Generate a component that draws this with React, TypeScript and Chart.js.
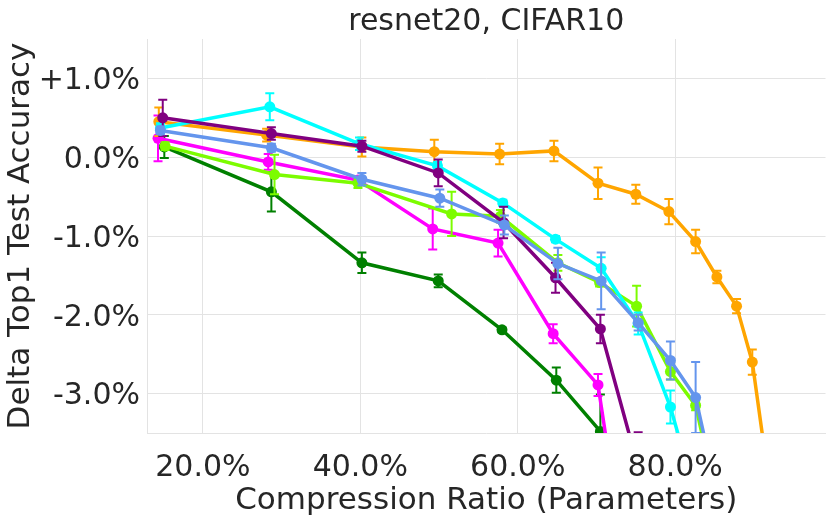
import React, { useEffect, useRef } from "react";
import { Chart, registerables } from "chart.js";

Chart.register(...registerables);

// compression ratio (%) / delta top1 accuracy (%) / std error, one set per method
const orangeRatio = [14.4, 28.1, 40.2, 49.4, 57.7, 64.6, 70.2, 75.0, 79.2, 82.6, 85.3, 87.8, 89.8, 92.3];
const orangeDelta = [0.45, 0.28, 0.13, 0.07, 0.04, 0.08, -0.33, -0.47, -0.69, -1.07, -1.52, -1.89, -2.6, -4.4];
const orangeErr = [0.18, 0.08, 0.12, 0.15, 0.13, 0.13, 0.2, 0.12, 0.16, 0.15, 0.08, 0.09, 0.16, 0.2];

const cyanRatio = [14.6, 28.5, 39.9, 49.8, 58.1, 64.8, 70.6, 75.3, 79.4, 82.5];
const cyanDelta = [0.37, 0.64, 0.17, -0.11, -0.58, -1.04, -1.41, -2.11, -3.17, -4.27];
const cyanErr = [0.06, 0.17, 0.08, 0.05, 0.04, 0.04, 0.14, 0.14, 0.21, 0.2];

const purpleRatio = [14.9, 28.7, 40.2, 49.9, 58.2, 64.8, 70.5, 75.3];
const purpleDelta = [0.5, 0.3, 0.14, -0.2, -0.83, -1.53, -2.18, -3.93];
const purpleErr = [0.23, 0.08, 0.07, 0.17, 0.2, 0.19, 0.18, 0.44];

const blueRatio = [14.6, 28.7, 40.2, 50.1, 58.3, 65.1, 70.6, 75.3, 79.4, 82.6, 86.5];
const blueDelta = [0.34, 0.12, -0.28, -0.52, -0.86, -1.35, -1.57, -2.1, -2.58, -3.05, -4.8];
const blueErr = [0.05, 0.05, 0.08, 0.11, 0.12, 0.2, 0.36, 0.1, 0.24, 0.45, 0.2];

const limeRatio = [15.2, 29.1, 39.7, 51.6, 57.8, 65.1, 70.4, 75.1, 79.4, 82.6, 86.5];
const limeDelta = [0.14, -0.22, -0.33, -0.72, -0.75, -1.34, -1.59, -1.89, -2.72, -3.15, -4.9];
const limeErr = [0.05, 0.25, 0.06, 0.28, 0.08, 0.1, 0.05, 0.26, 0.1, 0.06, 0.2];

const magentaRatio = [14.3, 28.3, 39.7, 49.2, 57.5, 64.5, 70.2, 73.4];
const magentaDelta = [0.24, -0.06, -0.29, -0.91, -1.09, -2.24, -2.89, -5.0];
const magentaErr = [0.29, 0.1, 0.05, 0.26, 0.17, 0.12, 0.14, 0.2];

const greenRatio = [15.1, 28.7, 40.2, 49.9, 58.0, 64.9, 70.5];
const greenDelta = [0.13, -0.44, -1.34, -1.57, -2.19, -2.83, -3.48];
const greenErr = [0.14, 0.25, 0.13, 0.08, 0.03, 0.16, 0.47];

const xTicks = [20, 40, 60, 80];
const yTicks = [-3, -2, -1, 0, 1];

const FONT = "'DejaVu Sans', sans-serif";
const TEXT = "#262626";
const GRID = "#e3e3e3";

const makeSeries = (color: string, xs: number[], ys: number[], errs: number[]) => ({
  data: xs.map((x, i) => ({ x, y: ys[i] })),
  errors: errs,
  borderColor: color,
  backgroundColor: color,
  pointBackgroundColor: color,
  pointBorderWidth: 0,
  pointRadius: 5.5,
  borderWidth: 3.5,
  tension: 0,
  clip: 0,
});

// vertical error bars with caps, drawn under each line's markers
const errorBars = {
  id: "errorBars",
  beforeDatasetDraw(chart: any, args: any) {
    const ds = chart.data.datasets[args.index];
    if (!ds.errors) return;
    const { ctx, chartArea } = chart;
    const xs = chart.scales.x;
    const ys = chart.scales.y;
    ctx.save();
    ctx.beginPath();
    ctx.rect(chartArea.left, chartArea.top, chartArea.right - chartArea.left, chartArea.bottom - chartArea.top);
    ctx.clip();
    ctx.strokeStyle = ds.borderColor;
    ctx.lineWidth = 2;
    ds.data.forEach((p: any, i: number) => {
      const e = ds.errors[i];
      const px = xs.getPixelForValue(p.x);
      const top = ys.getPixelForValue(p.y + e);
      const bot = ys.getPixelForValue(p.y - e);
      ctx.beginPath();
      ctx.moveTo(px, top);
      ctx.lineTo(px, bot);
      ctx.moveTo(px - 4.5, top);
      ctx.lineTo(px + 4.5, top);
      ctx.moveTo(px - 4.5, bot);
      ctx.lineTo(px + 4.5, bot);
      ctx.stroke();
    });
    ctx.restore();
  },
};

const App = () => {
  const chartRef = useRef<HTMLCanvasElement | null>(null);

  useEffect(() => {
    document.body.style.margin = "0";
    if (!chartRef.current) return;
    const ctx = chartRef.current.getContext("2d");
    if (!ctx) throw new Error("Could not get chart context");

    // first dataset is drawn on top
    const myChart = new Chart(ctx, {
      type: "line",
      data: {
        datasets: [
          makeSeries("#6495ED", blueRatio, blueDelta, blueErr),
          makeSeries("#800080", purpleRatio, purpleDelta, purpleErr),
          makeSeries("#00FFFF", cyanRatio, cyanDelta, cyanErr),
          makeSeries("#FFA500", orangeRatio, orangeDelta, orangeErr),
          makeSeries("#7CFC00", limeRatio, limeDelta, limeErr),
          makeSeries("#FF00FF", magentaRatio, magentaDelta, magentaErr),
          makeSeries("#008000", greenRatio, greenDelta, greenErr),
        ] as any,
      },
      options: {
        responsive: true,
        maintainAspectRatio: false,
        animation: false,
        layout: { padding: { left: 0, right: 5, top: 0, bottom: 0 } },
        plugins: {
          legend: { display: false },
          tooltip: { enabled: false },
          title: {
            display: true,
            text: "resnet20, CIFAR10",
            color: TEXT,
            fullSize: false,
            font: { family: FONT, size: 30, weight: "normal", lineHeight: 1 },
            padding: { top: 7, bottom: 2 },
          },
        },
        scales: {
          x: {
            type: "linear",
            min: 12.9,
            max: 99.1,
            afterBuildTicks: (s: any) => {
              s.ticks = xTicks.map((v) => ({ value: v }));
            },
            afterFit: (s: any) => {
              s.height = 89;
            },
            ticks: {
              color: TEXT,
              font: { family: FONT, size: 30 },
              padding: 17,
              maxRotation: 0,
              callback: (v: any) => Number(v).toFixed(1) + "%",
            },
            grid: { color: GRID, lineWidth: 1, drawTicks: false },
            border: { color: GRID, width: 1 },
            title: {
              display: true,
              text: "Compression Ratio (Parameters)",
              color: TEXT,
              font: { family: FONT, size: 31, lineHeight: 1.2 },
              padding: { top: 0, bottom: 2 },
            },
          },
          y: {
            min: -3.5,
            max: 1.5,
            afterBuildTicks: (s: any) => {
              s.ticks = yTicks.map((v) => ({ value: v }));
            },
            afterFit: (s: any) => {
              s.width = 147;
            },
            ticks: {
              color: TEXT,
              font: { family: FONT, size: 30 },
              padding: 7,
              labelOffset: 3,
              callback: (v: any) => (Number(v) > 0 ? "+" : "") + Number(v).toFixed(1) + "%",
            },
            grid: { color: GRID, lineWidth: 1, drawTicks: false },
            border: { color: GRID, width: 1 },
            title: {
              display: true,
              text: "Delta Top1 Test Accuracy",
              color: TEXT,
              font: { family: FONT, size: 31, lineHeight: 1.2 },
              padding: { top: 2, bottom: 0 },
            },
          },
        },
      },
      plugins: [errorBars],
    });

    return () => {
      myChart.destroy();
    };
  }, []);

  return (
    <div style={{ width: "831px", height: "522px", background: "#fff" }}>
      <canvas ref={chartRef} />
    </div>
  );
};

export default App;
